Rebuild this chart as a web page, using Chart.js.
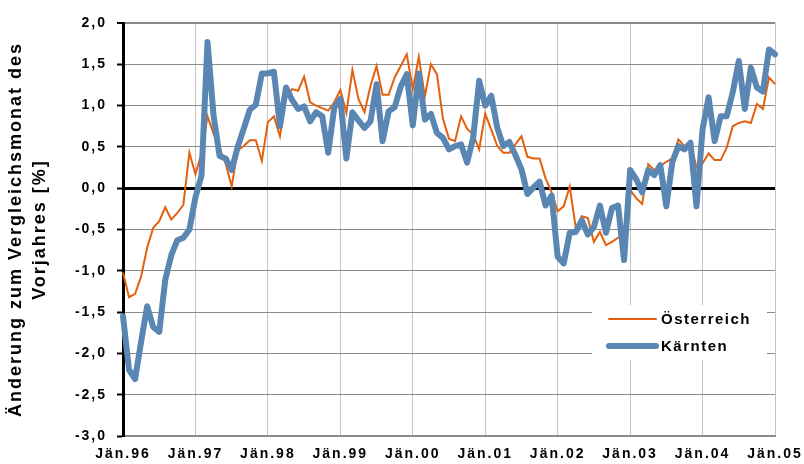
<!DOCTYPE html>
<html>
<head>
<meta charset="utf-8">
<script src="https://cdn.jsdelivr.net/npm/chart.js@4"></script>
<style>
  body { margin: 0; background: #fff; }
  canvas { display: block; }
</style>
</head>
<body>
<canvas id="myChart" width="804" height="464"></canvas>
<script>
const jahre = ['Jän.96', 'Jän.97', 'Jän.98', 'Jän.99', 'Jän.00', 'Jän.01', 'Jän.02', 'Jän.03', 'Jän.04', 'Jän.05'];

// Monatswerte Jän.96 - Jän.05
const oesterreich = [
  -1.02, -1.32, -1.28, -1.07, -0.72, -0.48, -0.40, -0.23, -0.38, -0.30, -0.20, 0.43,
  0.17, 0.42, 0.87, 0.66, 0.48, 0.30, 0.02, 0.46, 0.51, 0.58, 0.58, 0.33,
  0.80, 0.87, 0.63, 1.10, 1.20, 1.18, 1.35, 1.04, 1.00, 0.97, 0.94, 1.04,
  1.19, 0.91, 1.43, 1.08, 0.92, 1.24, 1.48, 1.13, 1.13, 1.34, 1.48, 1.62,
  1.20, 1.59, 1.11, 1.50, 1.38, 0.84, 0.60, 0.57, 0.87, 0.72, 0.65, 0.47,
  0.90, 0.71, 0.51, 0.43, 0.43, 0.53, 0.63, 0.38, 0.36, 0.36, 0.12, -0.05,
  -0.28, -0.22, 0.02, -0.48, -0.34, -0.36, -0.65, -0.53, -0.69, -0.65, -0.60, -0.55,
  -0.02, -0.12, -0.19, 0.29, 0.22, 0.27, 0.32, 0.36, 0.59, 0.51, 0.55, 0.25,
  0.30, 0.42, 0.34, 0.34, 0.49, 0.75, 0.79, 0.81, 0.79, 1.02, 0.96, 1.34,
  1.26
];

const kaernten = [
  -1.55, -2.20, -2.31, -1.86, -1.43, -1.68, -1.74, -1.11, -0.81, -0.63, -0.60, -0.50,
  -0.11, 0.15, 1.77, 0.88, 0.39, 0.36, 0.22, 0.50, 0.72, 0.95, 1.01, 1.39,
  1.39, 1.41, 0.75, 1.22, 1.07, 0.96, 0.99, 0.81, 0.92, 0.87, 0.43, 0.98,
  1.08, 0.36, 0.92, 0.82, 0.73, 0.81, 1.26, 0.57, 0.93, 0.98, 1.23, 1.38,
  0.76, 1.39, 0.83, 0.90, 0.67, 0.61, 0.47, 0.51, 0.53, 0.31, 0.61, 1.30,
  1.00, 1.12, 0.73, 0.51, 0.56, 0.40, 0.23, -0.07, 0.01, 0.08, -0.21, -0.09,
  -0.83, -0.91, -0.54, -0.53, -0.39, -0.56, -0.47, -0.21, -0.54, -0.24, -0.21, -0.87,
  0.22, 0.11, -0.05, 0.22, 0.16, 0.28, -0.22, 0.32, 0.51, 0.47, 0.55, -0.22,
  0.71, 1.10, 0.57, 0.87, 0.87, 1.16, 1.54, 0.96, 1.46, 1.22, 1.17, 1.68,
  1.62
];

const monate = oesterreich.map((_, i) => i);

const spacing = {
  id: 'spacing',
  beforeLayout: (chart) => { chart.ctx.letterSpacing = '2px'; },
  beforeDraw: (chart) => { chart.ctx.letterSpacing = '2px'; }
};

const legende = {
  id: 'legende',
  afterDraw: (chart) => {
    const ctx = chart.ctx;
    ctx.save();
    ctx.letterSpacing = '1.5px';
    ctx.fillStyle = '#fff';
    ctx.fillRect(592, 305, 175, 55);
    chart.data.datasets.forEach((ds, i) => {
      const y = 319 + i * 27;
      ctx.strokeStyle = ds.borderColor;
      ctx.lineWidth = ds.borderWidth;
      ctx.lineCap = 'round';
      ctx.beginPath();
      ctx.moveTo(609, y);
      ctx.lineTo(656, y);
      ctx.stroke();
      ctx.fillStyle = '#000';
      ctx.font = 'bold 15px "Liberation Sans", Arial, sans-serif';
      ctx.textBaseline = 'middle';
      ctx.fillText(ds.label, 661, y + 1);
    });
    ctx.restore();
  }
};

const ctx = document.getElementById('myChart').getContext('2d');
const myChart = new Chart(ctx, {
  type: 'line',
  data: {
    labels: monate,
    datasets: [
      {
        label: 'Österreich',
        data: oesterreich,
        borderColor: '#E4600C',
        borderWidth: 2,
        pointRadius: 0,
        tension: 0,
        order: 1
      },
      {
        label: 'Kärnten',
        data: kaernten,
        borderColor: '#5A86B4',
        borderWidth: 6,
        pointRadius: 0,
        tension: 0,
        borderJoinStyle: 'round',
        borderCapStyle: 'round',
        order: 0
      }
    ]
  },
  options: {
    responsive: false,
    animation: false,
    devicePixelRatio: 1,
    layout: { padding: { top: 23, right: 29, left: 0, bottom: 0 } },
    plugins: {
      legend: { display: false },
      tooltip: { enabled: false }
    },
    scales: {
      x: {
        type: 'category',
        offset: false,
        afterFit: (scale) => {
          scale.height = 28;
          scale.paddingRight = 0;
          scale.paddingLeft = 0;
        },
        border: { color: '#8a8a8a', width: 2 },
        grid: {
          drawTicks: false,
          color: (c) => c.index === monate.length - 1 ? '#8a8a8a' : '#c4c4c4',
          lineWidth: (c) => c.index === monate.length - 1 ? 2 : 1
        },
        ticks: {
          autoSkip: false,
          maxRotation: 0,
          padding: 10,
          color: '#000',
          font: { family: '"Liberation Sans", Arial, sans-serif', size: 14, weight: 'bold' },
          callback: (val, i) => i % 12 === 0 ? jahre[i / 12] : null
        }
      },
      y: {
        min: -3,
        max: 2,
        afterFit: (scale) => { scale.width = 123; },
        border: { color: '#000', width: 3 },
        grid: {
          color: (c) => c.tick && c.tick.value === 0 ? '#000' : '#8a8a8a',
          lineWidth: (c) => c.tick && c.tick.value === 0 ? 3 : (c.tick && c.tick.value === 2 ? 2 : 1),
          tickColor: '#000',
          tickLength: 6,
          tickWidth: 2
        },
        ticks: {
          stepSize: 0.5,
          padding: 10,
          color: '#000',
          font: { family: '"Liberation Sans", Arial, sans-serif', size: 14, weight: 'bold' },
          callback: (v) => v.toFixed(1).replace('.', ',')
        },
        title: {
          display: true,
          text: ['Änderung zum Vergleichsmonat des', 'Vorjahres [%]'],
          color: '#000',
          padding: { top: 4, bottom: 0 },
          font: { family: '"Liberation Sans", Arial, sans-serif', size: 18, weight: 'bold', lineHeight: 1.33 }
        }
      }
    }
  },
  plugins: [spacing, legende]
});
</script>
</body>
</html>
